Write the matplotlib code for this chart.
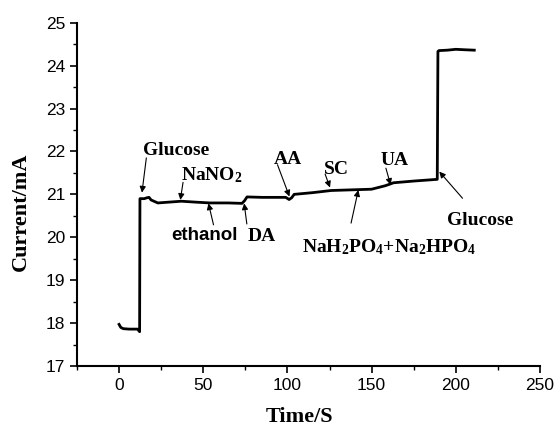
import numpy as np
import matplotlib.pyplot as plt
from matplotlib.ticker import MultipleLocator

plt.rcParams['mathtext.fontset'] = 'custom'
plt.rcParams['mathtext.rm'] = 'Liberation Serif:bold'
plt.rcParams['mathtext.it'] = 'Liberation Serif:bold'
plt.rcParams['mathtext.bf'] = 'Liberation Serif:bold'

# Amperometric response
time = [0, 1, 2.5, 6, 11, 12.2, 12.4, 13, 15, 16.5, 17.8, 19, 23, 30, 37, 45,
        54, 65, 73, 74.5, 76, 85, 99, 101, 102.5, 104, 115, 126, 142, 150,
        155, 158, 161, 163, 175, 189, 189.4, 190, 195, 200, 205, 211]
current = [17.97, 17.9, 17.87, 17.86, 17.86, 17.80, 20.9, 20.9, 20.9, 20.92,
           20.93, 20.87, 20.80, 20.82, 20.84, 20.82, 20.80, 20.80, 20.79,
           20.85, 20.94, 20.93, 20.93, 20.88, 20.92, 21.0, 21.04, 21.09,
           21.11, 21.12, 21.17, 21.2, 21.24, 21.27, 21.31, 21.35, 24.33,
           24.35, 24.36, 24.38, 24.37, 24.36]

# Injection labels: text, text position, arrow tail, arrow tip
labels = ['Glucose', 'NaNO$_2$', 'ethanol', 'DA', 'AA', 'SC', 'UA',
          'NaH$_2$PO$_4$+Na$_2$HPO$_4$', 'Glucose']
label_pos = [(14.0, 21.92), (36.7, 21.32), (30.8, 19.93), (76.2, 19.92),
             (92.0, 21.71), (121.4, 21.48), (155.2, 21.69), (108.8, 19.64),
             (194.7, 20.29)]
arrow_tail = [(16.2, 21.85), (38.0, 21.28), (56.1, 20.29), (75.9, 20.31),
              (94.1, 21.69), (122.4, 21.47), (158.5, 21.61), (137.8, 20.33),
              (204.0, 20.91)]
arrow_tip = [(13.6, 21.04), (36.4, 20.87), (53.1, 20.79), (74.3, 20.79),
             (101.2, 20.95), (125.3, 21.16), (161.3, 21.22), (142.1, 21.10),
             (190.2, 21.53)]

fig = plt.figure(figsize=(5.57, 4.30), dpi=100)
ax = fig.add_axes([0.1382, 0.1488, 0.8312, 0.7984])
ax.plot(time, current, color='black', lw=2.0)

for i in range(len(labels)):
    if labels[i] == 'ethanol':
        fam = 'Liberation Sans'
        size = 13.5
    else:
        fam = 'Liberation Serif'
        size = 14
    ax.text(label_pos[i][0], label_pos[i][1], labels[i], family=fam,
            fontweight='bold', fontsize=size, ha='left', va='baseline')
    ax.annotate('', xy=arrow_tip[i], xytext=arrow_tail[i],
                arrowprops=dict(arrowstyle='-|>', color='black', lw=0.8,
                                mutation_scale=9, shrinkA=0, shrinkB=0))

ax.set_xlim(-25, 250)
ax.set_ylim(17, 25)
ax.xaxis.set_major_locator(MultipleLocator(50))
ax.xaxis.set_minor_locator(MultipleLocator(25))
ax.yaxis.set_major_locator(MultipleLocator(1))
ax.yaxis.set_minor_locator(MultipleLocator(0.5))

ax.spines['top'].set_visible(False)
ax.spines['right'].set_visible(False)
ax.spines['left'].set_linewidth(1.5)
ax.spines['bottom'].set_linewidth(1.5)
ax.tick_params(which='major', direction='out', length=5, width=1.2,
               labelsize=12.5)
ax.tick_params(which='minor', direction='out', length=3, width=1.0)
for lab in ax.get_xticklabels() + ax.get_yticklabels():
    lab.set_family('Liberation Sans')

ax.set_xlabel('Time/S', family='Liberation Serif', fontweight='bold',
              fontsize=16)
ax.set_ylabel('Current/mA', family='Liberation Serif', fontweight='bold',
              fontsize=16)
ax.xaxis.set_label_coords(0.48, -0.118)
ax.yaxis.set_label_coords(-0.1, 0.45)

fig.savefig('out.png', dpi=100)
